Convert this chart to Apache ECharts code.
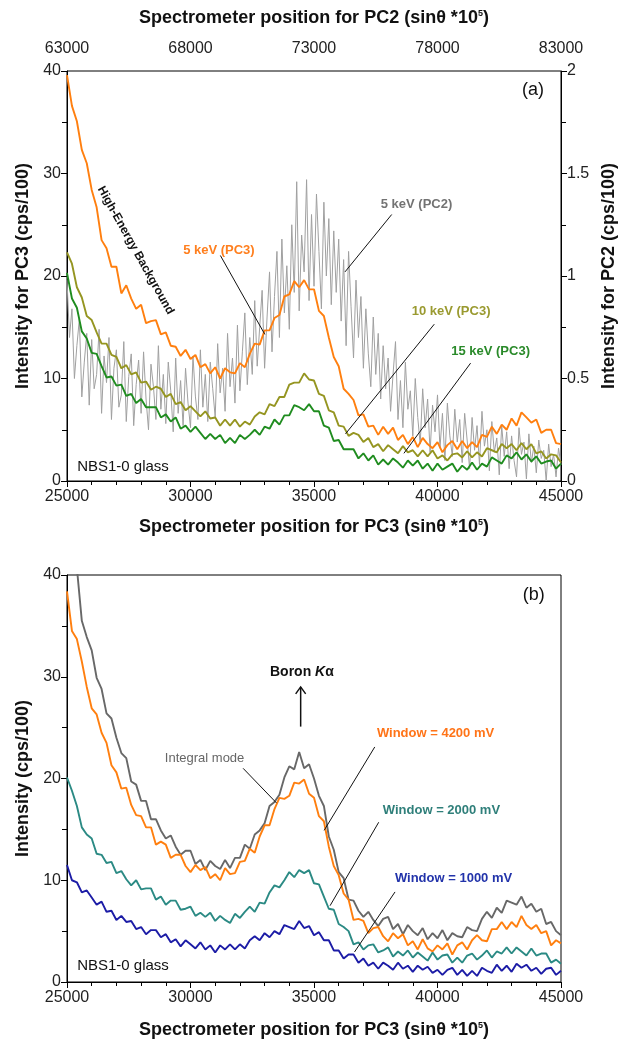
<!DOCTYPE html>
<html><head><meta charset="utf-8">
<script src="https://cdn.jsdelivr.net/npm/echarts@6/dist/echarts.min.js"></script>
<style>html,body{margin:0;padding:0;background:#fff}#c{width:634px;height:1048px}</style>
</head><body><div id="c"></div>
<script>
// ---------- DATA ----------
// PC3 spectrometer positions: 25000..45000, step 200 (101 points)
const pc3Start = 25000, pc3Step = 200;
// PC2 spectrometer positions: 63000..83000, step 100 (201 points)
const pc2Start = 63000, pc2Step = 100;

// Panel (a) — intensity for PC3 (cps/100)
const a_5keV_PC3 = [
 39.6,36.6,35.1,32.3,31.0,28.4,26.7,23.5,22.7,20.9,
 20.9,18.3,19.1,17.8,16.8,17.2,15.4,15.6,15.7,14.3,
 14.5,13.2,13.1,12.2,12.8,11.9,12.3,11.1,11.4,10.5,
 11.1,10.0,11.0,10.6,10.5,11.5,11.1,12.4,13.4,13.3,
 14.7,14.7,15.9,16.2,18.0,18.2,19.5,18.9,19.6,18.7,
 18.7,16.6,16.1,14.0,12.1,11.2,9.0,8.5,7.9,6.4,
 6.5,5.3,5.4,4.5,5.3,4.6,5.2,4.0,4.5,3.6,
 4.3,3.3,4.2,3.6,3.2,3.8,2.8,3.5,3.9,3.1,
 3.9,3.2,3.8,3.3,4.5,4.3,5.3,4.6,5.5,5.0,
 6.1,5.4,6.7,6.2,5.7,6.0,4.7,5.0,5.0,3.7,
 3.6];
const a_10keV_PC3 = [
 22.3,21.2,18.9,17.9,16.1,15.7,14.5,13.4,13.4,12.3,
 12.1,11.0,11.3,10.4,10.6,9.6,9.7,8.9,9.2,9.0,
 8.2,8.5,7.5,7.7,6.9,7.3,6.8,6.3,6.8,6.1,
 6.2,5.4,6.0,5.4,6.0,5.3,5.8,5.5,6.3,6.7,
 6.5,7.5,7.3,8.2,8.2,9.4,9.6,9.6,10.5,9.9,
 9.8,8.5,8.3,6.9,6.7,5.4,5.3,4.4,4.7,4.5,
 3.8,4.2,3.3,3.6,2.9,3.5,3.1,2.7,3.4,2.8,
 3.0,2.4,3.0,2.4,3.0,2.2,2.5,2.0,2.6,2.7,
 2.3,2.9,2.3,2.8,2.4,3.2,3.0,2.8,3.6,3.2,
 3.6,3.0,3.7,3.1,3.6,2.7,2.9,2.2,2.6,2.5,
 1.8];
const a_15keV_PC3 = [
 20.3,17.8,16.9,14.6,13.9,12.5,12.4,11.2,10.1,10.2,
 9.3,9.4,8.3,8.5,7.6,8.0,7.2,7.2,7.2,6.2,
 6.5,5.8,6.2,5.1,5.4,4.8,5.3,4.7,4.1,4.6,
 4.1,4.5,3.7,4.2,3.7,4.5,4.1,4.5,5.0,4.5,
 5.3,5.1,6.0,5.5,6.4,6.4,7.4,7.2,6.9,7.5,
 6.8,6.8,5.4,5.2,3.9,4.0,3.1,3.1,3.1,2.2,
 2.7,2.0,2.5,1.6,2.1,1.6,2.2,1.8,1.3,2.0,
 1.5,2.0,1.2,1.7,1.0,1.7,1.1,1.4,1.7,0.9,
 1.5,1.1,1.8,1.1,1.7,1.4,2.3,2.0,1.7,2.5,
 2.2,2.8,2.1,2.6,1.9,2.4,1.7,1.9,2.0,1.2,
 1.7];
// Panel (a) — intensity for PC2 (cps/100), right axis, top x axis
const a_5keV_PC2 = [
 0.98,0.70,0.84,0.50,0.66,0.79,0.41,0.58,0.72,0.37,
 0.69,0.45,0.52,0.74,0.33,0.61,0.48,0.70,0.30,0.55,
 0.64,0.36,0.42,0.68,0.29,0.51,0.62,0.27,0.47,0.59,
 0.33,0.63,0.40,0.25,0.57,0.46,0.30,0.66,0.35,0.52,
 0.28,0.58,0.44,0.24,0.60,0.33,0.49,0.27,0.55,0.38,
 0.26,0.61,0.41,0.30,0.64,0.36,0.52,0.29,0.58,0.45,
 0.31,0.67,0.43,0.55,0.34,0.72,0.46,0.60,0.38,0.76,
 0.44,0.63,0.82,0.47,0.70,0.52,0.88,0.56,0.75,0.93,
 0.55,0.80,1.02,0.63,0.90,1.12,0.70,1.18,0.82,1.05,
 0.74,1.25,0.92,1.46,0.83,1.20,1.02,1.47,0.88,1.30,
 0.95,1.40,1.12,0.84,1.36,1.00,1.28,0.86,1.22,0.92,
 1.18,0.78,1.08,0.66,1.12,0.85,0.60,0.98,0.70,0.90,
 0.55,0.84,0.62,0.46,0.80,0.52,0.72,0.40,0.66,0.45,
 0.60,0.34,0.52,0.68,0.30,0.49,0.26,0.58,0.35,0.44,
 0.22,0.50,0.31,0.18,0.45,0.26,0.40,0.14,0.37,0.24,
 0.42,0.16,0.33,0.10,0.38,0.22,0.12,0.35,0.19,0.30,
 0.09,0.33,0.20,0.06,0.31,0.15,0.27,0.08,0.34,0.17,
 0.25,0.05,0.29,0.14,0.21,0.03,0.27,0.12,0.24,0.06,
 0.22,0.10,0.02,0.26,0.13,0.19,0.01,0.23,0.09,0.17,
 0.04,0.20,0.11,0.15,0.00,0.18,0.07,0.13,0.02,0.16,
 0.08];

// Panel (b) — intensity (cps/100)
const b_integral = [
 47.7,45.5,40.7,35.5,33.9,32.6,29.9,28.8,26.4,25.9,
 24.0,22.5,22.0,19.7,19.4,17.8,17.8,16.0,16.0,14.9,
 14.1,14.4,13.3,12.5,12.9,12.9,11.6,12.0,11.0,11.9,
 11.4,11.1,12.0,11.2,12.2,12.2,13.5,13.1,14.5,14.9,
 15.6,17.3,17.7,18.4,20.1,21.2,20.9,22.6,21.0,21.4,
 20.0,18.3,17.3,14.3,13.0,10.8,10.2,8.1,8.0,7.0,
 6.4,6.9,6.1,5.5,6.2,6.4,5.2,5.7,4.7,5.6,
 5.0,4.6,5.3,4.2,4.8,4.3,5.1,4.1,4.8,4.5,
 4.4,5.4,5.1,5.0,6.2,6.9,6.3,7.3,6.8,8.0,
 7.8,7.6,8.4,7.3,7.7,6.9,7.2,5.7,5.9,5.0,
 4.6];
const b_w4200 = [
 38.4,34.5,33.7,31.5,29.0,26.9,26.3,24.5,23.5,21.3,
 20.6,19.0,19.1,17.4,16.4,16.3,15.2,15.2,13.5,13.8,
 13.5,12.2,12.5,12.5,11.4,10.8,11.5,11.0,11.3,10.2,
 10.6,10.0,11.2,10.6,10.7,11.8,11.9,13.1,12.7,14.3,
 15.4,15.4,17.0,18.1,18.0,18.3,19.6,19.5,19.9,18.5,
 18.1,16.3,15.8,13.3,11.4,10.5,8.7,8.1,6.1,6.2,
 6.0,4.8,5.3,5.4,4.5,4.0,4.8,4.3,4.7,3.6,
 4.0,3.2,4.2,3.3,3.0,3.6,3.2,3.8,2.7,3.6,
 3.9,3.2,4.1,4.6,4.1,4.0,5.2,5.2,5.9,5.2,
 5.9,5.4,6.5,5.6,5.2,5.6,4.8,5.0,3.6,4.1,
 3.8];
const b_w2000 = [
 20.1,18.8,17.3,15.2,14.5,14.1,12.6,12.5,11.7,11.8,
 10.7,10.9,10.1,9.5,10.0,9.1,9.2,9.2,8.1,8.4,
 7.6,8.0,8.0,7.1,7.2,7.4,6.5,6.8,6.4,6.8,
 6.0,6.5,6.1,5.8,6.7,6.3,6.9,7.4,6.9,7.8,
 7.7,8.8,9.5,9.3,10.0,10.8,10.3,11.0,10.7,11.0,
 9.7,9.6,8.4,7.2,7.1,5.7,5.4,5.0,3.7,3.9,
 3.2,3.6,3.7,2.9,3.1,3.4,2.5,3.0,2.6,3.1,
 2.4,2.9,2.5,2.1,2.9,2.2,2.6,2.7,1.9,2.4,
 1.9,2.6,2.8,2.2,2.6,3.1,2.4,3.0,2.8,3.4,
 2.8,3.4,3.0,2.6,3.3,2.6,2.8,2.8,1.9,2.2,
 1.8];
const b_w1000 = [
 11.5,10.0,9.8,8.8,9.0,8.3,7.6,7.9,6.9,7.0,
 6.1,6.5,5.9,6.0,5.2,5.4,4.7,5.1,5.1,4.4,
 4.7,3.9,4.2,3.5,4.1,3.7,3.3,3.9,3.2,3.6,
 2.9,3.6,3.2,3.7,3.2,3.7,3.3,4.1,4.5,4.1,
 4.8,4.4,5.0,4.7,5.6,5.4,5.2,6.0,5.3,5.5,
 4.6,4.9,4.1,4.1,3.1,3.1,2.3,2.7,2.7,1.9,
 2.3,1.6,1.9,1.3,1.9,1.6,1.2,1.9,1.3,1.6,
 1.0,1.6,1.2,1.5,0.9,1.2,0.7,1.2,1.4,0.7,
 1.2,0.6,1.1,0.6,1.4,1.1,0.9,1.7,1.1,1.6,
 1.0,1.8,1.4,1.7,1.1,1.4,0.8,1.3,1.4,0.7,
 1.1];

// ---------- CHART ----------
const FONT = "'Liberation Sans', Arial, sans-serif";
const pairs = (start, step, vals) => vals.map((v, i) => [start + step * i, v]);

const titleRich = {
  t: {fontFamily: FONT, fontSize: 18, fontWeight: 'bold', color: '#111'},
  s: {fontFamily: FONT, fontSize: 9, fontWeight: 'bold', color: '#111', verticalAlign: 'top', lineHeight: 10}
};
const labelStyle = {fontFamily: FONT, fontSize: 16, color: '#222'};
const axisLine = {show: true, lineStyle: {color: '#000', width: 1}};

function xAx(gridIndex, min, max, position, inside, name, nameGap, margin) {
  return {
    type: 'value', gridIndex, position, min, max, interval: 5000,
    axisLine, splitLine: {show: false},
    axisTick: {show: true, inside, length: 6, lineStyle: {color: '#000'}},
    minorTick: {show: true, splitNumber: 5, length: 4, lineStyle: {color: '#000'}},
    axisLabel: Object.assign({margin, formatter: v => String(v)}, labelStyle),
    name, nameLocation: 'middle', nameGap, nameTextStyle: {rich: titleRich}
  };
}
function yAx(gridIndex, min, max, interval, position, name, nameGap) {
  return {
    type: 'value', gridIndex, position, min, max, interval,
    axisLine, splitLine: {show: false},
    axisTick: {show: true, inside: false, length: 6, lineStyle: {color: '#000'}},
    minorTick: {show: true, splitNumber: 2, length: 5, lineStyle: {color: '#000'}},
    axisLabel: Object.assign({margin: 6}, labelStyle),
    name, nameLocation: 'middle', nameGap, nameRotate: 90,
    nameTextStyle: {fontFamily: FONT, fontSize: 18, fontWeight: 'bold', color: '#111'}
  };
}
function line(name, data, xi, yi, color, w, z) {
  return {name, type: 'line', data, xAxisIndex: xi, yAxisIndex: yi, showSymbol: false, symbol: 'none',
    clip: true, z, lineStyle: {color, width: w}, itemStyle: {color}};
}

const C = {
  orange: '#ff7f0f', olive: '#959521', green: '#1f8c1f', grayA: '#a0a0a0',
  grayB: '#686868', teal: '#2b8a84', blue: '#1c1ca6'
};

const chart = echarts.init(document.getElementById('c'), null, {renderer: 'canvas'});
const option = {
  animation: false,
  backgroundColor: '#fff',
  grid: [
    {left: 67, right: 73, top: 71, height: 410, show: true, borderColor: '#000', borderWidth: 1, backgroundColor: 'transparent'},
    {left: 67, right: 73, top: 575, height: 407, show: true, borderColor: '#000', borderWidth: 1, backgroundColor: 'transparent'}
  ],
  xAxis: [
    xAx(0, 25000, 45000, 'bottom', false, '{t|Spectrometer position for PC3 (sinθ *10}{s|5}{t|)}', 37, 8),
    xAx(0, 63000, 83000, 'top', true, '{t|Spectrometer position for PC2 (sinθ *10}{s|5}{t|)}', 44, 14),
    xAx(1, 25000, 45000, 'bottom', false, '{t|Spectrometer position for PC3 (sinθ *10}{s|5}{t|)}', 39, 8)
  ],
  yAxis: [
    yAx(0, 0, 40, 10, 'left', 'Intensity for PC3 (cps/100)', 27),
    yAx(0, 0, 2, 0.5, 'right', 'Intensity for PC2 (cps/100)', 39),
    yAx(1, 0, 40, 10, 'left', 'Intensity (cps/100)', 27)
  ],
  series: [
    line('5 keV (PC2)', pairs(pc2Start, pc2Step, a_5keV_PC2), 1, 1, C.grayA, 1, 1),
    line('15 keV (PC3)', pairs(pc3Start, pc3Step, a_15keV_PC3), 0, 0, C.green, 1.9, 2),
    line('10 keV (PC3)', pairs(pc3Start, pc3Step, a_10keV_PC3), 0, 0, C.olive, 1.9, 3),
    line('5 keV (PC3)', pairs(pc3Start, pc3Step, a_5keV_PC3), 0, 0, C.orange, 1.9, 4),
    line('Integral mode', pairs(pc3Start, pc3Step, b_integral), 2, 2, C.grayB, 1.9, 1),
    line('Window = 4200 mV', pairs(pc3Start, pc3Step, b_w4200), 2, 2, C.orange, 1.9, 2),
    line('Window = 2000 mV', pairs(pc3Start, pc3Step, b_w2000), 2, 2, C.teal, 1.9, 3),
    line('Window = 1000 mV', pairs(pc3Start, pc3Step, b_w1000), 2, 2, C.blue, 1.9, 4)
  ]
};
chart.setOption(option);

// ---------- ANNOTATIONS (anchored in data coordinates) ----------
const A = {xAxisIndex: 0, yAxisIndex: 0}, B = {xAxisIndex: 2, yAxisIndex: 2};
const labels = [
  {g: A, p: [31150, 22.5], text: '5 keV (PC3)', color: '#ff7f1e', font: 'bold 13px ' + FONT},
  {g: A, p: [39150, 27.0], text: '5 keV (PC2)', color: '#737373', font: 'bold 13px ' + FONT},
  {g: A, p: [40550, 16.5], text: '10 keV (PC3)', color: '#9a9a30', font: 'bold 13px ' + FONT},
  {g: A, p: [42150, 12.6], text: '15 keV (PC3)', color: '#2a8a2a', font: 'bold 13px ' + FONT},
  {g: A, p: [43870, 38.1], text: '(a)', color: '#111', font: '18px ' + FONT},
  {g: A, p: [25410, 1.4], text: 'NBS1-0 glass', color: '#111', font: '15px ' + FONT, align: 'left'},
  {g: A, p: [27777, 22.5], text: 'High-Energy Background', color: '#111', font: 'bold 12px ' + FONT, rot: -60.8},
  {g: B, p: [43900, 38.0], text: '(b)', color: '#111', font: '18px ' + FONT},
  {g: B, p: [25410, 1.6], text: 'NBS1-0 glass', color: '#111', font: '15px ' + FONT, align: 'left'},
  {g: B, p: [30570, 22.0], text: 'Integral mode', color: '#666', font: '13px ' + FONT},
  {g: B, p: [39920, 24.4], text: 'Window = 4200 mV', color: '#ff7418', font: 'bold 13px ' + FONT},
  {g: B, p: [40160, 16.9], text: 'Window = 2000 mV', color: '#2f7f7a', font: 'bold 13px ' + FONT},
  {g: B, p: [40650, 10.2], text: 'Window = 1000 mV', color: '#2233aa', font: 'bold 13px ' + FONT}
];
const leaders = [
  {g: A, from: [31210, 22.0], to: [33010, 14.3]},
  {g: A, from: [38146, 26.0], to: [36255, 20.4]},
  {g: A, from: [39870, 15.3], to: [36275, 4.6]},
  {g: A, from: [41340, 11.5], to: [38640, 2.7]},
  {g: B, from: [32130, 21.0], to: [33480, 17.6]},
  {g: B, from: [37460, 23.1], to: [35410, 14.9]},
  {g: B, from: [37620, 15.7], to: [35650, 7.5]},
  {g: B, from: [38280, 8.85], to: [36640, 2.95]}
];
const boron = {label: [34510, 30.5], arrowFrom: [34460, 25.1], arrowTo: [34460, 29.0]};

const graphics = [];
labels.forEach(l => {
  const [x, y] = chart.convertToPixel(l.g, l.p);
  graphics.push({type: 'text', x, y, z: 100, rotation: l.rot ? l.rot * Math.PI / 180 : 0,
    style: {text: l.text, fill: l.color, font: l.font, align: l.align || 'center', verticalAlign: 'middle'}});
});
leaders.forEach(l => {
  const [x1, y1] = chart.convertToPixel(l.g, l.from);
  const [x2, y2] = chart.convertToPixel(l.g, l.to);
  graphics.push({type: 'line', z: 100, shape: {x1, y1, x2, y2}, style: {stroke: '#111', lineWidth: 1}});
});
{
  const [bx, by] = chart.convertToPixel(B, boron.label);
  graphics.push({type: 'text', x: bx, y: by, z: 100, style: {
    text: '{b|Boron }{i|K}{b|α}', align: 'center', verticalAlign: 'middle',
    rich: {b: {fontFamily: FONT, fontSize: 14, fontWeight: 'bold', fill: '#111'},
           i: {fontFamily: FONT, fontSize: 14, fontWeight: 'bold', fontStyle: 'italic', fill: '#111'}}}});
  const [ax1, ay1] = chart.convertToPixel(B, boron.arrowFrom);
  const [ax2, ay2] = chart.convertToPixel(B, boron.arrowTo);
  graphics.push({type: 'line', z: 100, shape: {x1: ax1, y1: ay1, x2: ax2, y2: ay2}, style: {stroke: '#111', lineWidth: 1.5}});
  graphics.push({type: 'polyline', z: 100, shape: {points: [[ax2 - 5, ay2 + 7], [ax2, ay2], [ax2 + 5, ay2 + 7]]},
    style: {stroke: '#111', lineWidth: 1.5, fill: null}});
}
chart.setOption({graphic: graphics});
</script></body></html>
